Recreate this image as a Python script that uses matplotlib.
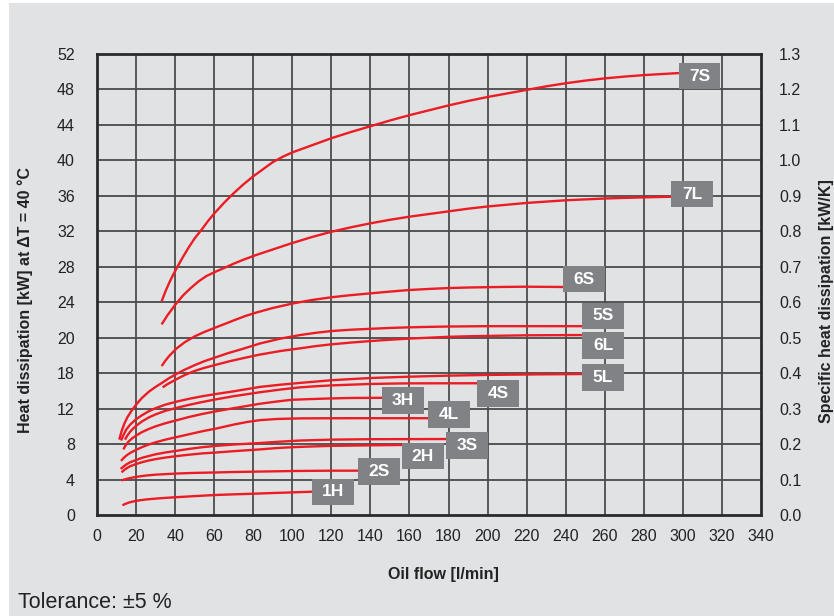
import matplotlib
matplotlib.use("Agg")
import matplotlib.pyplot as plt
from matplotlib.patches import Rectangle

plt.rcParams['font.family'] = ['Liberation Sans', 'DejaVu Sans']

# ── Datos ─────────────────────────────────────────────────
flow_7s = [33.1, 35, 37, 39, 41.2, 44, 47, 50, 53.6, 57, 60, 65, 70, 75, 80, 85, 90, 95, 100,
           110, 120, 130, 140, 150, 160, 170, 180, 190, 200, 210, 220, 230, 240, 250, 260, 270, 280, 290, 298]
heat_7s = [24.1, 25.2, 26.2, 27.1, 28.0, 29.1, 30.2, 31.2, 32.2, 33.2, 34.0, 35.2, 36.3, 37.3, 38.2, 39.0, 39.8, 40.4, 40.9,
           41.7, 42.5, 43.2, 43.85, 44.5, 45.1, 45.65, 46.2, 46.7, 47.15, 47.55, 47.95, 48.35, 48.7, 49.0, 49.25, 49.45, 49.62, 49.75, 49.85]

flow_7l = [33.1, 36, 40, 44, 48, 52, 56, 61.3, 66, 70, 75, 81.8, 90, 98.9, 110, 120, 130, 140,
           150, 160, 170, 180, 190, 200, 210, 220, 230, 240, 250, 260, 270, 280, 294]
heat_7l = [21.5, 22.5, 23.7, 24.75, 25.6, 26.35, 26.95, 27.5, 27.95, 28.35, 28.8, 29.35, 29.95, 30.6, 31.35, 31.95, 32.45, 32.9,
           33.3, 33.65, 33.95, 34.25, 34.55, 34.8, 35.0, 35.2, 35.35, 35.5, 35.6, 35.7, 35.77, 35.83, 35.9]

flow_6s = [33.1, 35, 37, 40.8, 45, 50, 55, 61.3, 66, 70, 76, 81.8, 90, 100, 110, 120, 130, 140,
           150, 160, 170, 180, 190, 200, 210, 220, 238.7]
heat_6s = [16.8, 17.4, 17.95, 18.8, 19.5, 20.15, 20.65, 21.2, 21.6, 21.95, 22.45, 22.85, 23.35, 23.85, 24.25, 24.56, 24.8, 25.0,
           25.2, 25.38, 25.5, 25.6, 25.66, 25.7, 25.73, 25.75, 25.72]

flow_5s = [11.4, 12.5, 14, 15.5, 17.5, 20, 23, 26.5, 30, 33.6, 37, 41, 45, 50, 55, 61, 67, 74, 83.5, 94,
           104, 112, 120, 130, 140, 150, 160, 170, 180, 200, 248.5]
heat_5s = [8.5, 9.4, 10.3, 11.0, 11.7, 12.45, 13.2, 13.9, 14.45, 14.95, 15.45, 15.95, 16.4, 16.9, 17.35, 17.8, 18.25, 18.7, 19.35, 19.9,
           20.3, 20.55, 20.75, 20.9, 21.0, 21.1, 21.17, 21.22, 21.26, 21.3, 21.3]

flow_6l = [33.6, 36, 38.5, 41, 45, 50, 55, 61, 68, 75, 83.5, 94, 104, 112, 120, 130, 140, 150, 160,
           170, 180, 190, 200, 220, 248.5]
heat_6l = [14.4, 14.75, 15.05, 15.35, 15.8, 16.25, 16.6, 16.95, 17.35, 17.7, 18.1, 18.5, 18.8, 19.05, 19.25, 19.45, 19.62, 19.77, 19.9,
           20.0, 20.1, 20.16, 20.2, 20.27, 20.3]

flow_5l = [12.3, 13.5, 15, 17, 20, 23, 26.5, 30, 35, 41, 47, 54, 61, 70, 83.5, 94, 104, 112, 120,
           130, 140, 150, 160, 170, 180, 200, 225, 248.5]
heat_5l = [8.4, 9.0, 9.65, 10.2, 10.8, 11.25, 11.7, 12.05, 12.45, 12.8, 13.1, 13.4, 13.65, 13.95, 14.45, 14.7, 14.9, 15.05, 15.2,
           15.33, 15.45, 15.53, 15.6, 15.66, 15.72, 15.8, 15.86, 15.9]

flow_4s = [14.3, 15.5, 17, 18.5, 20, 23, 26.5, 30, 35, 41, 47, 54, 61, 70, 83.5, 94, 104, 112, 120,
           130, 140, 150, 160, 194.7]
heat_4s = [8.5, 8.95, 9.4, 9.75, 10.05, 10.55, 11.0, 11.35, 11.75, 12.1, 12.42, 12.75, 13.05, 13.4, 13.85, 14.15, 14.4, 14.52, 14.62,
           14.7, 14.78, 14.82, 14.85, 14.86]

flow_3h = [13.5, 14.5, 16, 18, 20, 23, 26.5, 30, 35, 41, 47, 54, 61, 70, 83.5, 92, 100, 110, 120, 130, 146]
heat_3h = [7.4, 7.8, 8.25, 8.65, 8.95, 9.35, 9.7, 10.0, 10.35, 10.7, 11.05, 11.4, 11.7, 12.05, 12.55, 12.8, 13.0, 13.08, 13.15, 13.2, 13.22]

flow_4l = [12.3, 13.5, 15, 17, 20, 23, 26.5, 30, 35, 41, 47, 54, 61, 70, 77, 83.5, 92, 104, 130, 169.7]
heat_4l = [6.1, 6.4, 6.7, 7.0, 7.35, 7.65, 7.95, 8.2, 8.5, 8.8, 9.1, 9.45, 9.75, 10.2, 10.5, 10.7, 10.83, 10.9, 10.92, 10.92]

flow_3s = [12.1, 13.5, 15, 17, 20, 23, 26.5, 30, 35, 41, 47, 54, 61, 70, 83.5, 92, 104, 120, 140, 178.8]
heat_3s = [5.2, 5.45, 5.7, 5.95, 6.2, 6.45, 6.65, 6.85, 7.05, 7.25, 7.45, 7.65, 7.8, 7.95, 8.12, 8.25, 8.4, 8.5, 8.55, 8.57]

flow_2h = [12.6, 13.5, 15, 17, 20, 23, 26.5, 30, 35, 41, 47, 54, 61, 70, 83.5, 92, 100, 110, 120, 140, 156.3]
heat_2h = [4.8, 5.0, 5.25, 5.5, 5.75, 5.95, 6.15, 6.3, 6.48, 6.65, 6.8, 6.95, 7.05, 7.2, 7.4, 7.55, 7.65, 7.73, 7.8, 7.86, 7.9]

flow_2s = [12.6, 14, 16, 20, 25, 30, 41, 50, 61, 70, 83.5, 100, 120, 133.9]
heat_2s = [3.9, 4.0, 4.12, 4.3, 4.45, 4.55, 4.68, 4.75, 4.8, 4.85, 4.9, 4.96, 5.0, 5.0]

flow_1h = [13, 14.5, 16, 18, 20, 25, 30, 35, 40, 50, 60, 70, 80, 90, 100, 110.3]
heat_1h = [1.1, 1.25, 1.38, 1.5, 1.6, 1.75, 1.85, 1.93, 2.0, 2.13, 2.25, 2.33, 2.4, 2.48, 2.55, 2.63]

curvas = [
    ('7S', flow_7s, heat_7s), ('7L', flow_7l, heat_7l), ('6S', flow_6s, heat_6s),
    ('5S', flow_5s, heat_5s), ('6L', flow_6l, heat_6l), ('5L', flow_5l, heat_5l),
    ('4S', flow_4s, heat_4s), ('3H', flow_3h, heat_3h), ('4L', flow_4l, heat_4l),
    ('3S', flow_3s, heat_3s), ('2H', flow_2h, heat_2h), ('2S', flow_2s, heat_2s),
    ('1H', flow_1h, heat_1h),
]

# posición (centro) de las etiquetas grises
etiqueta_x = {'7S': 308.5, '7L': 304.8, '6S': 249.4, '5S': 259.1, '6L': 259.1, '5L': 259.1,
              '4S': 205.3, '3H': 156.7, '4L': 180.3, '3S': 189.4, '2H': 166.9, '2S': 144.5, '1H': 120.9}
etiqueta_y = {'7S': 49.5, '7L': 36.2, '6S': 26.6, '5S': 22.45, '6L': 19.1, '5L': 15.5,
              '4S': 13.7, '3H': 12.9, '4L': 11.35, '3S': 7.85, '2H': 6.65, '2S': 4.9, '1H': 2.6}

yticks_izq = [0, 4, 8, 12, 16, 20, 24, 28, 32, 36, 40, 44, 48, 52]
ylabels_izq = ['0', '4', '8', '12', '18', '20', '24', '28', '32', '36', '40', '44', '48', '52']
xticks = list(range(0, 341, 20))

# ── Estilo ────────────────────────────────────────────────
fondo = '#e1e2e4'
rojo = '#ec1c24'
gris_caja = '#808285'
linea = '#333333'
texto = '#222222'

fig = plt.figure(figsize=(8.34, 6.16), dpi=100, facecolor='white')
fig.patches.append(Rectangle((9 / 834, 0), 1, 613 / 616, transform=fig.transFigure,
                             facecolor=fondo, edgecolor='none', zorder=-10))

ax = fig.add_axes([97 / 834, 1 - 515 / 616, (761 - 97) / 834, (515 - 54) / 616])
ax.set_facecolor(fondo)
ax.set_xlim(0, 340)
ax.set_ylim(0, 52)

for xv in xticks[1:-1]:
    ax.axvline(xv, color=linea, lw=1.1, zorder=1)
for yv in yticks_izq[1:-1]:
    ax.axhline(yv, color='#4a4a4a', lw=1.3, zorder=1)

for nombre, fx, hy in curvas:
    ax.plot(fx, hy, color=rojo, lw=1.7, zorder=3, solid_capstyle='butt', solid_joinstyle='round')
    cx, cy = etiqueta_x[nombre], etiqueta_y[nombre]
    ax.add_patch(Rectangle((cx - 10.65, cy - 1.5), 21.3, 3.0, facecolor=gris_caja,
                           edgecolor='none', zorder=4))
    ax.text(cx, cy, nombre, color='white', fontsize=12.5, fontweight='bold',
            ha='center', va='center', zorder=5)

ax.set_xticks(xticks)
ax.set_yticks(yticks_izq)
ax.set_yticklabels(ylabels_izq)
ax.tick_params(axis='both', length=0, labelsize=11.5, colors=texto)
ax.tick_params(axis='x', pad=10)
ax.tick_params(axis='y', pad=16)
for sp in ax.spines.values():
    sp.set_linewidth(2.0)
    sp.set_color('#2a2a2a')

ax2 = ax.twinx()
ax2.set_ylim(0, 1.3)
ax2.set_yticks([i / 10 for i in range(14)])
ax2.set_yticklabels([f'{i / 10:.1f}' for i in range(14)])
ax2.tick_params(axis='y', length=0, labelsize=11.5, colors=texto, pad=13)
for sp in ax2.spines.values():
    sp.set_visible(False)

fig.text(25 / 834, 1 - 300 / 616, 'Heat dissipation [kW] at ΔT = 40 °C', rotation=90,
         ha='center', va='center', fontsize=11.5, fontweight='bold', color=texto)
fig.text(826 / 834, 1 - 301 / 616, 'Specific heat dissipation [kW/K]', rotation=90,
         ha='center', va='center', fontsize=11.5, fontweight='bold', color=texto)
fig.text(443 / 834, 1 - 574 / 616, 'Oil flow [l/min]', ha='center', va='center',
         fontsize=11.5, fontweight='bold', color=texto)
fig.text(18 / 834, 1 - 603 / 616, 'Tolerance: ±5 %', ha='left', va='center',
         fontsize=15.5, color=texto)

fig.savefig('out.png', dpi=100, facecolor=fig.get_facecolor())
